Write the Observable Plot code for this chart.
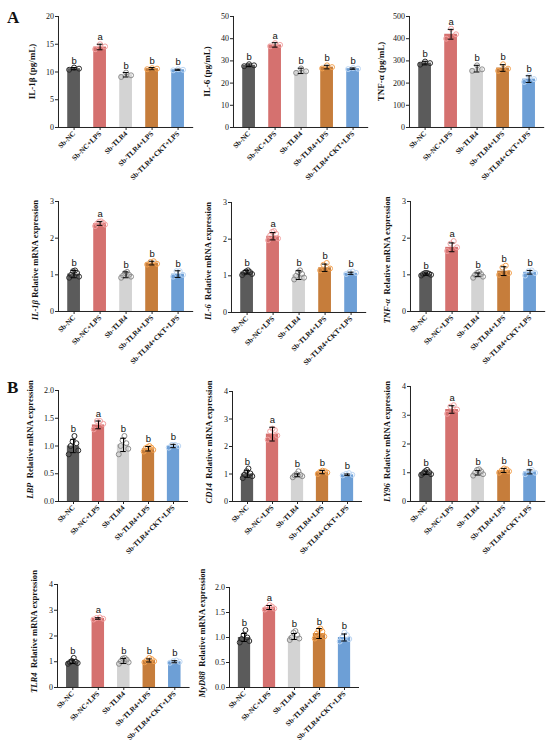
<!DOCTYPE html>
<html>
<head>
<meta charset="utf-8">
<script src="https://cdn.jsdelivr.net/npm/d3@7"></script>
<script src="https://cdn.jsdelivr.net/npm/@observablehq/plot@0.6"></script>
<style>
  html, body { margin: 0; padding: 0; background: #fff; }
  #fig { position: relative; width: 550px; height: 749px; background: #fff; overflow: hidden; }
  #fig svg { position: absolute; overflow: visible; }
  .plabel { position: absolute; font-family: "Liberation Serif", serif; font-weight: bold; font-size: 17px; color: #111; }
</style>
</head>
<body>
<div id="fig">
  <div class="plabel" style="left:7px;top:8px;">A</div>
  <div class="plabel" style="left:7px;top:378px;">B</div>
</div>
<script>
// ---------- shared categories & colours ----------
const groups = ["Sb-NC", "Sb-NC+LPS", "Sb-TLR4", "Sb-TLR4+LPS", "Sb-TLR4+CKT+LPS"];
const barColors = ["#5b5b5b", "#d5716f", "#d3d3d3", "#c67d3b", "#6d9fd6"];
const dotColors = ["#2a2a2a", "#f2a2a2", "#8c8c8c", "#f2a14f", "#bcd6f3"];
const letters = ["b", "a", "b", "b", "b"];

// ---------- IL-1β (pg/mL) ----------
const il1bMean = [10.6, 14.5, 9.5, 10.6, 10.4];
const il1bSD = [0.2, 0.5, 0.4, 0.2, 0.1];
const il1bPts = [[10.4, 10.6, 10.8], [14.1, 14.6, 15.0], [9.1, 9.4, 9.9], [10.5, 10.6, 10.7], [10.3, 10.4, 10.5]];
const il1bTicks = [0, 5, 10, 15, 20];

// ---------- IL-6 (pg/mL) ----------
const il6Mean = [28.0, 37.2, 25.5, 27.2, 26.5];
const il6SD = [0.6, 1.0, 1.2, 0.8, 0.3];
const il6Pts = [[27.6, 28.0, 28.5], [36.6, 37.2, 38.0], [24.6, 25.3, 26.6], [26.6, 27.2, 28.0], [26.3, 26.5, 26.8]];
const il6Ticks = [0, 10, 20, 30, 40, 50];

// ---------- TNF-α (pg/mL) ----------
const tnfMean = [290, 420, 265, 268, 218];
const tnfSD = [8, 22, 15, 15, 15];
const tnfPts = [[283, 290, 297], [400, 420, 445], [255, 262, 280], [255, 265, 285], [205, 218, 232]];
const tnfTicks = [0, 100, 200, 300, 400, 500];

// ---------- IL-1β mRNA ----------
const il1bMrnaMean = [1.02, 2.40, 1.00, 1.32, 1.02];
const il1bMrnaSD = [0.10, 0.05, 0.08, 0.05, 0.09];
const il1bMrnaPts = [[0.92, 0.95, 1.0, 1.05, 1.1, 1.12], [2.33, 2.37, 2.4, 2.42, 2.45, 2.46], [0.92, 0.95, 0.98, 1.0, 1.05, 1.08], [1.28, 1.3, 1.35, 1.37], [0.95, 1.0, 1.1, 1.1]];

// ---------- IL-6 mRNA ----------
const il6MrnaMean = [1.10, 2.08, 1.02, 1.22, 1.07];
const il6MrnaSD = [0.05, 0.10, 0.12, 0.10, 0.03];
const il6MrnaPts = [[1.02, 1.05, 1.08, 1.1, 1.12, 1.15], [1.97, 2.02, 2.1, 2.15, 2.2, 2.22], [0.9, 0.95, 1.0, 1.05, 1.1, 1.15], [1.15, 1.2, 1.3, 1.35], [1.05, 1.08, 1.1, 1.12]];

// ---------- TNF-α mRNA ----------
const tnfMrnaMean = [1.02, 1.75, 1.00, 1.10, 1.07];
const tnfMrnaSD = [0.03, 0.12, 0.05, 0.12, 0.05];
const tnfMrnaPts = [[0.98, 1.0, 1.02, 1.03, 1.05, 1.05], [1.65, 1.75, 1.85, 1.92], [0.92, 0.95, 1.0, 1.02, 1.05, 1.08], [1.0, 1.05, 1.2, 1.25], [0.98, 1.05, 1.1, 1.12]];

const mrnaTicks3 = [0, 1, 2, 3];

// ---------- LBP ----------
const lbpMean = [1.00, 1.38, 1.02, 0.95, 1.00];
const lbpSD = [0.12, 0.07, 0.12, 0.04, 0.03];
const lbpPts = [[0.85, 0.92, 1.0, 1.05, 1.08, 1.18], [1.3, 1.4, 1.45, 1.45], [0.85, 0.95, 1.0, 1.05, 1.1, 1.18], [0.9, 0.93, 0.96, 0.97, 0.98, 1.0], [0.97, 1.0, 1.02, 1.02]];
const ticks2 = [0, 0.5, 1.0, 1.5, 2.0];

// ---------- CD14 ----------
const cd14Mean = [1.00, 2.45, 0.95, 1.07, 0.97];
const cd14SD = [0.12, 0.25, 0.05, 0.06, 0.03];
const cd14Pts = [[0.85, 0.92, 0.98, 1.02, 1.1, 1.2], [2.25, 2.4, 2.55, 2.6, 2.65], [0.88, 0.92, 0.95, 0.97, 1.0, 1.1], [1.0, 1.05, 1.08, 1.1, 1.12], [0.95, 0.97, 1.0, 1.03]];
const ticks4 = [0, 1, 2, 3, 4];

// ---------- LY96 ----------
const ly96Mean = [1.00, 3.20, 1.00, 1.08, 1.03];
const ly96SD = [0.06, 0.13, 0.08, 0.07, 0.07];
const ly96Pts = [[0.92, 0.95, 0.98, 1.02, 1.05, 1.1], [3.05, 3.2, 3.3, 3.35], [0.9, 0.95, 1.0, 1.05, 1.1, 1.12], [1.0, 1.05, 1.08, 1.12, 1.15], [0.95, 1.0, 1.05, 1.1]];

// ---------- TLR4 ----------
const tlr4Mean = [1.00, 2.68, 1.03, 1.05, 1.00];
const tlr4SD = [0.07, 0.03, 0.10, 0.06, 0.04];
const tlr4Pts = [[0.92, 0.95, 0.98, 1.0, 1.03, 1.15], [2.64, 2.67, 2.7, 2.72], [0.92, 0.98, 1.02, 1.08, 1.12, 1.15], [0.98, 1.02, 1.06, 1.1, 1.15], [0.96, 1.0, 1.02, 1.05]];

// ---------- MyD88 ----------
const myd88Mean = [1.00, 1.60, 1.02, 1.08, 1.00];
const myd88SD = [0.08, 0.04, 0.06, 0.10, 0.07];
const myd88Pts = [[0.9, 0.93, 0.97, 1.0, 1.05, 1.15], [1.56, 1.58, 1.6, 1.62, 1.65], [0.95, 0.98, 1.0, 1.05, 1.1, 1.13], [0.98, 1.02, 1.08, 1.12, 1.15, 1.18], [0.92, 0.97, 1.0, 1.05, 1.1]];

// ---------- panel builder ----------
const fig = document.getElementById("fig");
const mL = 45, mT = 8, mR = 6, mB = 70;
const xLo = -0.6, xHi = 4.6;

// interleave sorted replicates so they spread left/right rather than forming a diagonal
function slotOf(j, n) {
  return j % 2 === 0 ? j / 2 : n - 1 - (j - 1) / 2;
}

function makePanel(o) {
  const plotH = o.zeroY - o.topY;
  const plotW = o.unit * (xHi - xLo);
  const bars = groups.map((g, i) => ({
    i, g, mean: o.mean[i], sd: o.sd[i], letter: letters[i],
    top: Math.max(o.mean[i] + o.sd[i], d3.max(o.pts[i]))
  }));
  const pts = [];
  o.pts.forEach((arr, i) => {
    const n = arr.length;
    arr.forEach((v, j) => {
      const s = slotOf(j, n);
      const off = n > 1 ? (s - (n - 1) / 2) * (0.38 / (n - 1)) : 0;
      pts.push({ i, v, xo: i + off });
    });
  });
  const chart = Plot.plot({
    width: mL + plotW + mR,
    height: mT + plotH + mB,
    marginLeft: mL, marginRight: mR, marginTop: mT, marginBottom: mB,
    style: { fontFamily: "'Liberation Serif', serif", fontSize: "8px", color: "#111", background: "transparent" },
    x: { type: "linear", domain: [xLo, xHi], axis: null },
    y: { domain: [0, o.yMax], axis: null },
    marks: [
      Plot.rectY(bars, { x1: d => d.i - 0.245, x2: d => d.i + 0.245, y1: 0, y2: "mean", fill: d => barColors[d.i] }),
      Plot.dot(pts, { x: "xo", y: "v", r: 2.5, stroke: d => dotColors[d.i], strokeWidth: 1, fill: "none" }),
      Plot.ruleX(bars, { x: "i", y1: d => d.mean - d.sd, y2: d => d.mean + d.sd, stroke: "#000", strokeWidth: 1 }),
      Plot.ruleY(bars, { x1: d => d.i - 0.11, x2: d => d.i + 0.11, y: d => d.mean + d.sd, stroke: "#000", strokeWidth: 1 }),
      Plot.ruleY(bars, { x1: d => d.i - 0.11, x2: d => d.i + 0.11, y: d => d.mean - d.sd, stroke: "#000", strokeWidth: 1 }),
      Plot.text(bars, { x: "i", y: "top", text: "letter", dy: -4, lineAnchor: "bottom", fontFamily: "'Liberation Sans', Arial, sans-serif", fontSize: 9.5, fill: "#111" }),
      Plot.ruleY([0], { stroke: "#222", strokeWidth: 1 }),
      Plot.ruleX([xLo], { stroke: "#222", strokeWidth: 1 }),
      Plot.axisY({ ticks: o.ticks, tickFormat: o.fmt || (d => String(d)), tickSize: 3, tickPadding: 1.5, label: null, fontSize: 8, stroke: "#222" }),
      Plot.axisX({ ticks: [0, 1, 2, 3, 4], tickFormat: i => groups[i], tickRotate: -45, tickSize: 3, tickPadding: 2, label: null, fontSize: 7.2, fontWeight: "bold", stroke: "#222" })
    ]
  });
  chart.style.left = (o.axisX - mL) + "px";
  chart.style.top = (o.topY - mT) + "px";
  // y-axis title with mixed italic/regular parts
  const svg = d3.select(chart);
  const t = svg.append("text")
    .attr("transform", `translate(${mL - o.labelGap},${mT + plotH / 2 + (o.labelShift || 0)}) rotate(-90)`)
    .attr("text-anchor", "middle")
    .attr("font-family", "'Liberation Serif', serif")
    .attr("font-weight", "bold")
    .attr("font-size", o.labelSize || 8.6)
    .attr("fill", "#111");
  o.label.forEach(([s, it]) => {
    t.append("tspan").attr("font-style", it ? "italic" : "normal").attr("xml:space", "preserve").text(s);
  });
  fig.appendChild(chart);
}

const f1 = d => d.toFixed(1);

// Row 1 (ELISA)
makePanel({ mean: il1bMean, sd: il1bSD, pts: il1bPts, yMax: 20, ticks: il1bTicks, axisX: 58, topY: 16, zeroY: 127, unit: 26, label: [["IL-1β (pg/mL)", false]], labelGap: 23, labelSize: 9 });
makePanel({ mean: il6Mean, sd: il6SD, pts: il6Pts, yMax: 50, ticks: il6Ticks, axisX: 233, topY: 16, zeroY: 127, unit: 26, label: [["IL-6 (pg/mL)", false]], labelGap: 23, labelSize: 9 });
makePanel({ mean: tnfMean, sd: tnfSD, pts: tnfPts, yMax: 500, ticks: tnfTicks, axisX: 409, topY: 16, zeroY: 127, unit: 26, label: [["TNF-α (pg/mL)", false]], labelGap: 25, labelSize: 9 });

// Row 2 (mRNA)
makePanel({ mean: il1bMrnaMean, sd: il1bMrnaSD, pts: il1bMrnaPts, yMax: 3, ticks: mrnaTicks3, axisX: 58, topY: 201, zeroY: 311, unit: 26, label: [["IL-1β", true], [" Relative mRNA expression", false]], labelGap: 20, labelShift: 4 });
makePanel({ mean: il6MrnaMean, sd: il6MrnaSD, pts: il6MrnaPts, yMax: 3, ticks: mrnaTicks3, axisX: 231, topY: 202, zeroY: 312, unit: 26, label: [["IL-6", true], ["  Relative mRNA expression", false]], labelGap: 20, labelShift: 4 });
makePanel({ mean: tnfMrnaMean, sd: tnfMrnaSD, pts: tnfMrnaPts, yMax: 3, ticks: mrnaTicks3, axisX: 410, topY: 201, zeroY: 311, unit: 26, label: [["TNF-α", true], ["  Relative mRNA expression", false]], labelGap: 20, labelShift: 4 });

// Row 3 (B)
makePanel({ mean: lbpMean, sd: lbpSD, pts: lbpPts, yMax: 2, ticks: ticks2, fmt: f1, axisX: 58, topY: 390, zeroY: 501, unit: 25, label: [["LBP", true], ["  Relative mRNA expression", false]], labelGap: 25, labelShift: -6 });
makePanel({ mean: cd14Mean, sd: cd14SD, pts: cd14Pts, yMax: 4, ticks: ticks4, axisX: 232, topY: 391, zeroY: 501, unit: 25, label: [["CD14", true], ["  Relative mRNA expression", false]], labelGap: 20, labelShift: -4 });
makePanel({ mean: ly96Mean, sd: ly96SD, pts: ly96Pts, yMax: 4, ticks: ticks4, axisX: 410, topY: 386, zeroY: 501, unit: 26, label: [["LY96", true], ["  Relative mRNA expression", false]], labelGap: 20, labelShift: -2 });

// Row 4
makePanel({ mean: tlr4Mean, sd: tlr4SD, pts: tlr4Pts, yMax: 4, ticks: ticks4, axisX: 57, topY: 584, zeroY: 687, unit: 25.5, label: [["TLR4", true], ["  Relative mRNA expression", false]], labelGap: 20, labelShift: -4 });
makePanel({ mean: myd88Mean, sd: myd88SD, pts: myd88Pts, yMax: 2, ticks: ticks2, fmt: f1, axisX: 229, topY: 587, zeroY: 687, unit: 25, label: [["MyD88", true], ["  Relative mRNA expression", false]], labelGap: 24, labelShift: -4 });
</script>
</body>
</html>
